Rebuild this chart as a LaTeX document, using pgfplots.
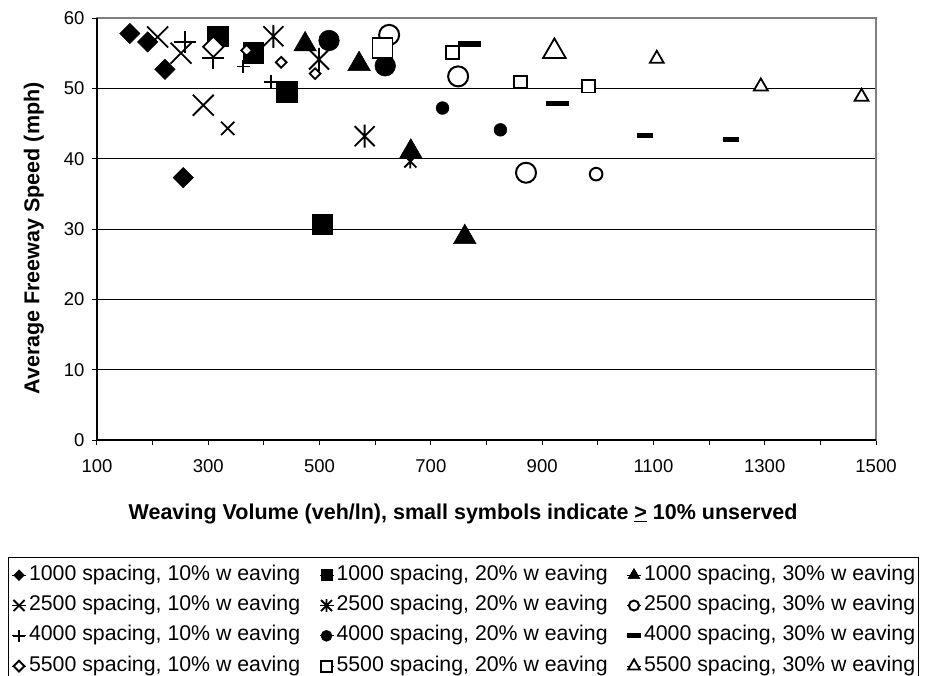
\documentclass[border=0pt]{standalone}
\usepackage{fontspec}
\setmainfont{Liberation Sans}
\usepackage{pgfplots}
\pgfplotsset{compat=1.18}
\pgfdeclareplotmark{xstar}{%
  \pgfpathmoveto{\pgfqpoint{-\pgfplotmarksize}{-\pgfplotmarksize}}%
  \pgfpathlineto{\pgfqpoint{\pgfplotmarksize}{\pgfplotmarksize}}%
  \pgfpathmoveto{\pgfqpoint{-\pgfplotmarksize}{\pgfplotmarksize}}%
  \pgfpathlineto{\pgfqpoint{\pgfplotmarksize}{-\pgfplotmarksize}}%
  \pgfpathmoveto{\pgfqpoint{0pt}{-1.15\pgfplotmarksize}}%
  \pgfpathlineto{\pgfqpoint{0pt}{1.15\pgfplotmarksize}}%
  \pgfusepathqstroke}
\pgfdeclareplotmark{dash}{%
  \pgfpathrectangle{\pgfqpoint{-\pgfplotmarksize}{-2.6pt}}{\pgfqpoint{2\pgfplotmarksize}{5.2pt}}%
  \pgfusepathqfill}
\pgfplotsset{
  sDiaF/.style={only marks, mark=square*, mark options={rotate=45, draw=black, fill=black, line width=0.5pt}},
  sSqF/.style={only marks, mark=square*, mark options={draw=black, fill=black, line width=0.5pt}},
  sTriF/.style={only marks, mark=triangle*, mark options={draw=black, fill=black, line width=0.5pt}},
  sX/.style={only marks, mark=x, mark options={draw=black, line width=1.8pt}},
  sStar/.style={only marks, mark=xstar, mark options={draw=black, line width=1.8pt}},
  sCirc/.style={only marks, mark=*, mark options={draw=black, fill=white, line width=2pt}},
  sPlus/.style={only marks, mark=+, mark options={draw=black, line width=1.8pt}},
  sCircF/.style={only marks, mark=*, mark options={draw=black, fill=black, line width=0.5pt}},
  sDash/.style={only marks, mark=dash, mark options={draw=black, fill=black}},
  sDia/.style={only marks, mark=square*, mark options={rotate=45, draw=black, fill=white, line width=1.8pt}},
  sSq/.style={only marks, mark=square*, mark options={draw=black, fill=white, line width=1.8pt}},
  sTri/.style={only marks, mark=triangle*, mark options={draw=black, fill=white, line width=1.8pt}},
}
\newcommand{\LE}[1]{\addlegendentry{\makebox[280pt][l]{#1}}}
\newcommand{\LEl}[1]{\addlegendentry{#1}}
\begin{document}
\begin{tikzpicture}[x=1pt,y=1pt]
\begin{axis}[
  at={(97pt,235pt)}, anchor=south west,
  width=779pt, height=422pt, scale only axis,
  xmin=100, xmax=1500, ymin=0, ymax=60,
  xtick={100,300,...,1500}, minor xtick={200,400,...,1400},
  ytick={0,10,...,60},
  tick align=outside, xtick pos=bottom, ytick pos=left,
  major tick length=5pt, minor tick length=5pt,
  tick style={black, line width=1pt},
  ymajorgrids, grid style={black, line width=0.8pt},
  axis line style={draw=gray, line width=2pt},
  clip=false,
  tick label style={font=\fontsize{18.5}{22}\selectfont},
  xticklabel style={yshift=-11pt},
  yticklabel style={xshift=-4pt},
  /pgf/number format/assume math mode=true,
  /pgf/number format/1000 sep={},
  xlabel={Weaving Volume (veh/ln), small symbols indicate \underline{>} 10\% unserved},
  ylabel={Average Freeway Speed (mph)},
  label style={font=\bfseries\fontsize{21.5}{25}\selectfont},
  xlabel style={at={(axis description cs:0.47,-0.175)}, anchor=center},
  ylabel style={at={(axis description cs:-0.081,0.4775)}, anchor=center},
  legend columns=3, legend cell align=left,
  legend style={at={(axis description cs:-0.11425,-0.2773)}, anchor=north west,
    draw=black, line width=1pt, inner xsep=3pt, inner ysep=7.7pt,
    font=\fontsize{21.3}{25}\selectfont, row sep=10.3pt,
    nodes={inner sep=0pt, text height=15pt, text depth=5pt},
    /tikz/every odd column/.append style={column sep=2.5pt},
    /tikz/every even column/.append style={column sep=10pt}},
  legend image code/.code={\path (-7pt,0pt) -- (7pt,0pt); \draw[#1,/tikz/only marks] plot coordinates {(0pt,0pt)};},
]
% 1000 spacing, 10% weaving
\addplot[sDiaF, mark size=7.2pt, legend image post style={mark size=3.8pt}] coordinates {(159,57.8) (191,56.6) (222,52.7) (255,37.3)};
\LE{1000 spacing, 10\% w eaving}
% 1000 spacing, 20%
\addplot[sSqF, mark size=10.3pt, legend image post style={mark size=5.5pt}] coordinates {(317,57.4) (381,55.1) (441,49.5) (505,30.7)};
\LE{1000 spacing, 20\% w eaving}
% 1000 spacing, 30%
\addplot[sTriF, mark size=13pt, legend image post style={mark size=6.8pt}] coordinates {(474,56.25) (571,53.45) (664,41.0) (761,28.85)};
\LEl{1000 spacing, 30\% w eaving}
% 2500 spacing, 10%
\addplot[sX, mark size=14.8pt, legend image post style={mark size=7.8pt}] coordinates {(209,57.3) (251,55.0) (291,47.6)};
\LE{2500 spacing, 10\% w eaving}
\addplot[sX, mark size=9.4pt, forget plot] coordinates {(335,44.3)};
% 2500 spacing, 20%
\addplot[sStar, mark size=10pt, legend image post style={mark size=5.5pt}] coordinates {(417,57.4) (499,54.1) (581,43.2)};
\LE{2500 spacing, 20\% w eaving}
\addplot[sStar, mark size=6pt, forget plot] coordinates {(663,39.6)};
% 2500 spacing, 30%
\addplot[sCirc, mark size=10pt, legend image post style={mark size=5pt}] coordinates {(625,57.6) (749,51.7) (871,38.0)};
\LEl{2500 spacing, 30\% w eaving}
\addplot[sCirc, mark size=6.3pt, forget plot] coordinates {(997,37.8)};
% 4000 spacing, 10%
\addplot[sPlus, mark size=10.8pt, legend image post style={mark size=6pt}] coordinates {(258,56.6) (309,54.3)};
\LE{4000 spacing, 10\% w eaving}
\addplot[sPlus, mark size=6.7pt, forget plot] coordinates {(363,53.1) (412,50.9)};
% 4000 spacing, 20%
\addplot[sCircF, mark size=10.3pt, legend image post style={mark size=5.5pt}] coordinates {(517,56.8) (618,53.2)};
\LE{4000 spacing, 20\% w eaving}
\addplot[sCircF, mark size=6.4pt, forget plot] coordinates {(721,47.2) (825,44.1)};
% 4000 spacing, 30%
\addplot[sDash, mark size=11.5pt, legend image post style={mark size=7pt}] coordinates {(770,56.3) (927,47.8)};
\LEl{4000 spacing, 30\% w eaving}
\addplot[sDash, mark size=7.8pt, forget plot] coordinates {(1085,43.3) (1239,42.7)};
% 5500 spacing, 10%
\addplot[sDia, mark size=7.2pt, legend image post style={mark size=3.8pt}] coordinates {(309,55.9)};
\LE{5500 spacing, 10\% w eaving}
\addplot[sDia, mark size=3.8pt, forget plot] coordinates {(369,55.4) (431,53.7) (492,52.1)};
% 5500 spacing, 20%
\addplot[sSq, mark size=10pt, legend image post style={mark size=5.5pt}] coordinates {(613,55.7)};
\LE{5500 spacing, 20\% w eaving}
\addplot[sSq, mark size=6.3pt, forget plot] coordinates {(739,55.1) (861,50.9) (983,50.3)};
% 5500 spacing, 30%
\addplot[sTri, mark size=13pt, legend image post style={mark size=6.8pt}] coordinates {(922,55.25)};
\LEl{5500 spacing, 30\% w eaving}
\addplot[sTri, mark size=8pt, forget plot] coordinates {(1106,54.2) (1293,50.27) (1474,48.8)};
\draw[black, line width=1.5pt] (rel axis cs:0,1) -- (rel axis cs:0,0) -- (rel axis cs:1,0);
\end{axis}
\pgfresetboundingbox
\path[use as bounding box] (0,0) rectangle (925,675);
\end{tikzpicture}
\end{document}
